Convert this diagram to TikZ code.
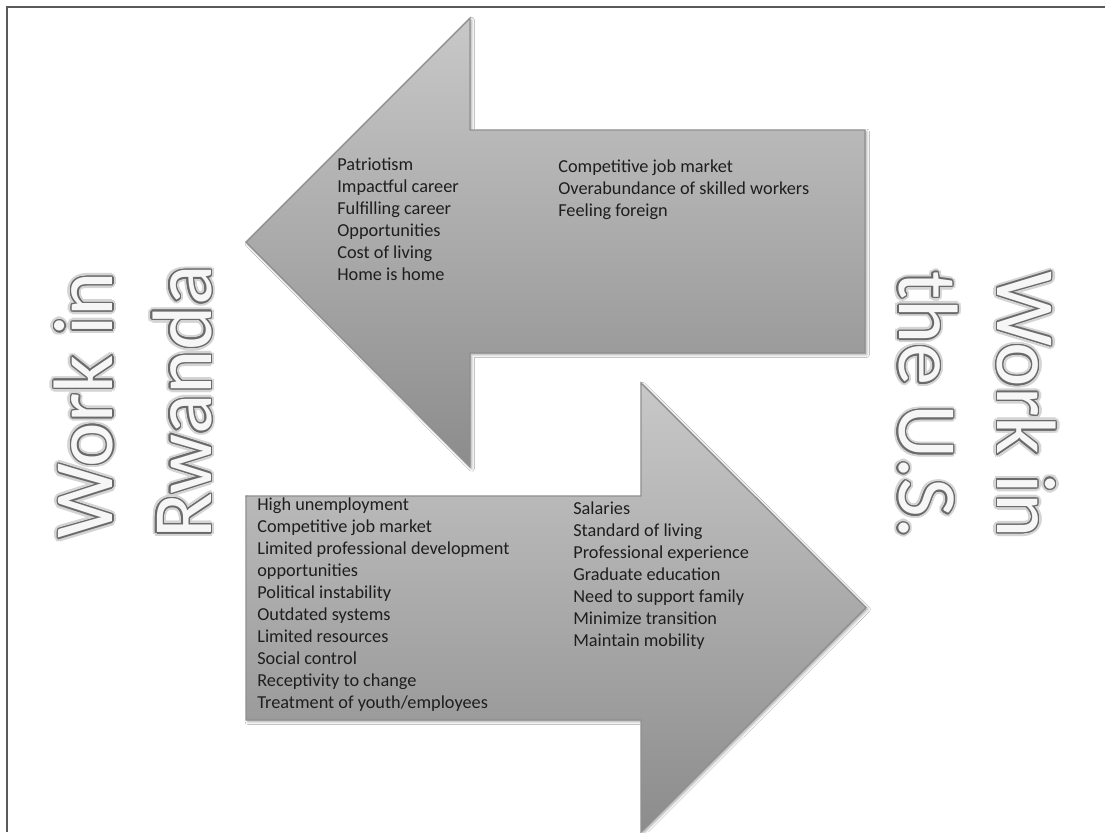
\documentclass[tikz,border=0pt]{standalone}
\usepackage{fontspec}
\setmainfont{Carlito}
\usepackage{tikz}
\usetikzlibrary{calc,shadows.blur}
\definecolor{Frame}{HTML}{5A5A5A}
\definecolor{ArrowTop}{HTML}{C8C8C8}
\definecolor{ArrowBot}{HTML}{8C8C8C}
\definecolor{ArrowEdge}{HTML}{909090}
\definecolor{Ink}{HTML}{1E1E1E}
\definecolor{Outline}{HTML}{6A6A6A}
\definecolor{Glow}{HTML}{D4D4D4}
\definecolor{Paper}{HTML}{F6F6F6}

% outlined title: name, anchor point, rotation, text
\newcommand{\outlinedlabel}[4]{%
  \foreach \a in {0,30,...,330}
    \node[bigtext,rotate=#3,text=Glow] at ($(#2)+(\a:2.2pt)$) {#4};
  \foreach \a in {0,22.5,...,337.5}
    \node[bigtext,rotate=#3,text=Outline] at ($(#2)+(\a:0.8pt)$) {#4};
  \node[bigtext,rotate=#3,text=Paper] (#1) at (#2) {#4};
}

\begin{document}
\begin{tikzpicture}[
    x=0.02cm,y=-0.02cm,
    bigarrow/.style={draw=ArrowEdge,line width=0.8pt,top color=ArrowTop,bottom color=ArrowBot,
      blur shadow={shadow xshift=1pt,shadow yshift=-1pt,shadow blur radius=1.5pt,shadow opacity=35}},
    items/.style={anchor=north west,align=left,inner sep=0pt,text=Ink,
      font=\fontsize{10.4}{12.5}\selectfont,yshift=8.75pt,execute at begin node=\strut},
    bigtext/.style={anchor=south west,align=left,inner sep=0pt,
      font=\fontsize{48}{56}\selectfont}
]
\fill[white] (0,0) rectangle (1105,832);
\useasboundingbox (0,0) rectangle (1105,832);
\draw[Frame,line width=1.1pt] (1105,7) -- (7,7) -- (7,832);

\draw[bigarrow] (246,242) -- (470,18) -- (470,130) -- (865,130) -- (865,353) -- (470,353) -- (470,467) -- cycle;
\draw[bigarrow] (246,496) -- (641,496) -- (641,383) -- (866,607.5) -- (641,832) -- (641,720) -- (246,720) -- cycle;

\node[items] (rwpull) at (337,173) {Patriotism\\Impactful career\\Fulfilling career\\Opportunities\\Cost of living\\Home is home};
\node[items] (uspush) at (558,175) {Competitive job market\\Overabundance of skilled workers\\Feeling foreign};
\node[items] (rwpush) at (257,513) {High unemployment\\Competitive job market\\Limited professional development\\opportunities\\Political instability\\Outdated systems\\Limited resources\\Social control\\Receptivity to change\\Treatment of youth/employees};
\node[items] (uspull) at (573,517) {Salaries\\Standard of living\\Professional experience\\Graduate education\\Need to support family\\Minimize transition\\Maintain mobility};

\coordinate (rw) at (212,539);
\coordinate (us) at (898,271);
\outlinedlabel{rwanda}{rw}{90}{Work in\\Rwanda}
\outlinedlabel{usa}{us}{-90}{Work in\\the U.S.}
\end{tikzpicture}
\end{document}
